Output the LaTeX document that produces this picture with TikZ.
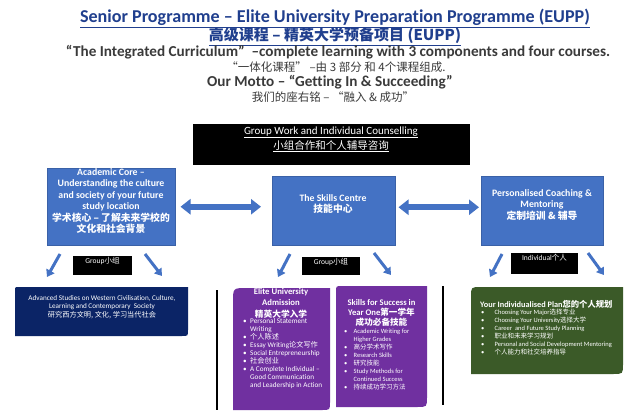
\documentclass[tikz,border=0pt]{standalone}
\usepackage{fontspec}
\setmainfont{Carlito}[Ligatures=NoCommon]
\newfontfamily\cjk{Noto Sans CJK SC}
\usetikzlibrary{arrows.meta}

\definecolor{titleblue}{HTML}{203F8E}
\definecolor{boxblue}{HTML}{4472C4}
\definecolor{navyblue}{HTML}{0B2466}
\definecolor{grape}{HTML}{7030A0}
\definecolor{moss}{HTML}{3B5A28}
\definecolor{ink}{HTML}{3A3A3A}

\newcommand{\zh}[1]{{\cjk #1}}
\newcommand{\bul}[1][7pt]{\makebox[#1][l]{\textbullet}}
\newcommand{\ind}[1][7pt]{\hspace*{#1}}
\newcommand{\cornerbox}[7]{\fill[#7] (#1,#2+#5) .. controls (#1,#2) .. (#1+#5,#2) -- (#3,#2) -- (#3,#4-#6) .. controls (#3,#4) .. (#3-#6,#4) -- (#1,#4) -- cycle;}

\begin{document}
\begin{tikzpicture}[x=1pt,y=-1pt,
  heading/.style={font=\bfseries\fontsize{18.1}{20}\selectfont, text=titleblue, inner sep=0pt, anchor=base},
  subline/.style={font=\bfseries\fontsize{15.2}{17}\selectfont, text=ink, inner sep=0pt, anchor=base},
  zhline/.style={font=\cjk\fontsize{11.5}{13}\selectfont, text=ink, inner sep=0pt, anchor=base},
  bluebox/.style={fill=boxblue, draw=boxblue!85!black, line width=0.5pt, inner sep=0pt, anchor=north west},
  blacktag/.style={fill=black, inner sep=0pt, anchor=north west},
  boxtext/.style={text=white, font=\bfseries\fontsize{9.8}{11.5}\selectfont, align=center, inner sep=0pt},
  tagtext/.style={text=white, font=\fontsize{7.5}{8}\selectfont, inner sep=0pt, anchor=base},
  listhead/.style={text=white, font=\bfseries\fontsize{8.6}{10}\selectfont, align=center, inner sep=0pt, anchor=north},
  listtext/.style={text=white, font=\fontsize{6.5}{7.9}\selectfont, align=left, inner sep=0pt, anchor=north west},
  bigarrow/.style={draw=boxblue, line width=6pt, {Triangle[length=10pt,width=15pt]}-{Triangle[length=10pt,width=15pt]}},
  smallarrow/.style={draw=boxblue, line width=3pt, -{Triangle[length=7pt,width=9pt]}}]

\fill[white] (0,0) rectangle (640,420);
\useasboundingbox (0,0) rectangle (640,420);

% titles
\node[heading] (t1) at (335,23) {\underline{Senior Programme – Elite University Preparation Programme (EUPP)}};
\node[heading, font=\cjk\bfseries\fontsize{15}{17}\selectfont] (t2) at (335,41) {\underline{高级课程 – 精英大学预备项目 (EUPP)}};
\node[subline] (t3) at (338,57) {“The Integrated Curriculum”\ \ –complete learning with 3 components and four courses.};
\node[zhline] (t4) at (336,72) {“一体化课程”\ –由 3 部分 和 4个课程组成.};
\node[subline] (t5) at (330,87) {Our Motto –\ “Getting In \& Succeeding”};
\node[zhline] (t6) at (333,101) {我们的座右铭 –\ “融入 \& 成功”};

% counselling bar
\node[blacktag, minimum width=277, minimum height=41] (group) at (193,124) {};
\node[text=white, font=\fontsize{11}{12}\selectfont, inner sep=0pt, anchor=base] (grouptxt) at (331,134) {\underline{Group Work and Individual Counselling}};
\node[text=white, font=\cjk\fontsize{10.5}{12}\selectfont, inner sep=0pt, anchor=base] (groupzh) at (331,149) {\underline{小组合作和个人辅导咨询}};

% three components
\node[bluebox, minimum width=128, minimum height=77] (acad) at (47,168) {};
\node[boxtext] (acadtxt) at (111,201) {Academic Core –\\Understanding the culture\\and society of your future\\study location\\\zh{学术核心 – 了解未来学校的}\\\zh{文化和社会背景}};
\node[bluebox, minimum width=123, minimum height=69] (skills) at (272,176) {};
\node[boxtext] (skillstxt) at (333,204) {The Skills Centre\\\zh{技能中心}};
\node[bluebox, minimum width=122, minimum height=69] (pers) at (481,176) {};
\node[boxtext] (perstxt) at (542,205) {Personalised Coaching \&\\Mentoring\\\zh{定制培训 \& 辅导}};

\draw[bigarrow, shorten <=5pt, shorten >=11pt] (acad.east) -- (acad.east -| skills.west);
\draw[bigarrow, shorten <=3pt, shorten >=2pt] ([yshift=3.5pt]skills.east) -- ([yshift=3.5pt]skills.east -| pers.west);

% tags and arrows
\node[blacktag, minimum width=59, minimum height=19] (tag1) at (73,256) {};
\node[tagtext] (tag1txt) at (102.5,263) {Group\zh{小组}};
\node[blacktag, minimum width=58, minimum height=18] (tag2) at (302,257) {};
\node[tagtext] (tag2txt) at (331,264) {Group\zh{小组}};
\node[blacktag, minimum width=67, minimum height=21] (tag3) at (511,253) {};
\node[tagtext] (tag3txt) at (544.5,260) {Individual\zh{个人}};

\coordinate (acadL0) at (60,254);  \coordinate (acadL1) at (47,277);
\coordinate (acadR0) at (145,254); \coordinate (acadR1) at (162,276);
\coordinate (skillL0) at (290,254); \coordinate (skillL1) at (278,277);
\coordinate (skillR0) at (374,253); \coordinate (skillR1) at (391,275);
\coordinate (persL0) at (502,254); \coordinate (persL1) at (490,277);
\coordinate (persR0) at (588,253); \coordinate (persR1) at (604,275);
\draw[smallarrow] (acadL0) -- (acadL1);
\draw[smallarrow] (acadR0) -- (acadR1);
\draw[smallarrow] (skillL0) -- (skillL1);
\draw[smallarrow] (skillR0) -- (skillR1);
\draw[smallarrow] (persL0) -- (persL1);
\draw[smallarrow] (persR0) -- (persR1);

% courses
\cornerbox{15}{287}{188}{336}{4}{6}{navyblue}
\node[text=white, font=\fontsize{7.2}{8.5}\selectfont, align=center, inner sep=0pt] (advtxt) at (102,307) {Advanced Studies on Western Civilisation, Culture,\\Learning and Contemporary\ \ Society\\\zh{研究西方文明, 文化, 学习当代社会}};

\draw[line width=2.5pt] (217,290) -- (217,410);
\draw[line width=2.5pt] (443,286) -- (443,405);

\cornerbox{233}{288}{330}{410}{14}{8}{grape}
\node[listhead, font=\bfseries\fontsize{8.7}{11.5}\selectfont] (elitehd) at (281,288) {Elite University\\Admission\\\zh{精英大学入学}};
\node[listtext, font=\fontsize{7.2}{8}\selectfont] (elitelist) at (243,318) {\bul Personal Statement\\\ind Writing\\\bul \zh{个人陈述}\\\bul Essay Writing\zh{论文写作}\\\bul Social Entrepreneurship\\\bul \zh{社会创业}\\\bul A Complete Individual –\\\ind Good Communication\\\ind and Leadership in Action};

\cornerbox{336}{286}{427}{407}{6}{10}{grape}
\node[listhead] (skillhd) at (381.5,299) {Skills for Success in\\Year One\zh{第一学年}\\\zh{成功必备技能}};
\node[listtext] (skilllist) at (344,329) {\bul[8pt] Academic Writing for\\\ind[8pt] Higher Grades\\\bul[8pt] \zh{高分学术写作}\\\bul[8pt] Research Skills\\\bul[8pt] \zh{研究技能}\\\bul[8pt] Study Methods for\\\ind[8pt] Continued Success\\\bul[8pt] \zh{持续成功学习方法}};

\cornerbox{471}{287}{623}{374}{10}{10}{moss}
\node[text=white, font=\bfseries\fontsize{8.3}{10}\selectfont, inner sep=0pt, anchor=west] (planhd) at (480,304) {Your Individualised Plan\zh{您的个人规划}};
\node[listtext] (planlist) at (481,309) {\bul[12pt] Choosing Your Major\zh{选择专业}\\\bul[12pt] Choosing Your University\zh{选择大学}\\\bul[12pt] Career\ \ and Future Study Planning\\\bul[12pt] \zh{职业和未来学习规划}\\\bul[12pt] Personal and Social Development Mentoring\\\bul[12pt] \zh{个人能力和社交培养指导}};
\end{tikzpicture}
\end{document}
